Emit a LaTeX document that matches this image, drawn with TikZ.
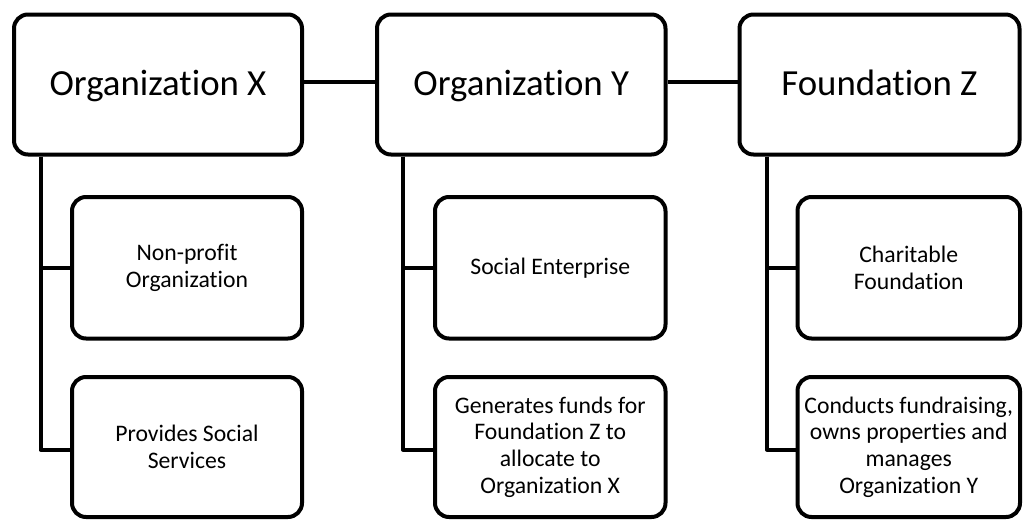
\documentclass[tikz,border=0pt]{standalone}
\usepackage{fontspec}
\setmainfont{Carlito}[Ligatures=NoCommon]
\begin{document}
\begin{tikzpicture}[x=1pt,y=-1pt,
  box/.style={draw=black, line width=4pt, rounded corners=14pt, fill=white, align=center, inner sep=0pt},
  topbox/.style={box, minimum height=140pt, text height=26pt, text depth=5pt, font=\fontsize{36.8}{44}\selectfont},
  subbox/.style={box, font=\fontsize{23.7}{26.7}\selectfont},
  link/.style={draw=black, line width=4pt, line join=round}]
\useasboundingbox (0,0) rectangle (1023,520);
% top level
\node[topbox, minimum width=288pt] (X) at (158,84.5) {Organization X};
\node[topbox, minimum width=288.5pt] (Y) at (521.25,84.5) {Organization Y};
\node[topbox, minimum width=280pt] (Z) at (879.5,84.5) {Foundation Z};
% children
\node[subbox, minimum width=230pt, minimum height=141.5pt] (X1) at (187,267.75) {Non-profit\\Organization};
\node[subbox, minimum width=230pt, minimum height=140pt] (X2) at (187,447) {Provides Social\\Services};
\node[subbox, minimum width=230.5pt, minimum height=141.5pt] (Y1) at (550.25,267.75) {Social Enterprise};
\node[subbox, minimum width=230.5pt, minimum height=140pt] (Y2) at (550.25,447) {Generates funds for\\Foundation Z to\\allocate to\\Organization X};
\node[subbox, minimum width=222.5pt, minimum height=141.5pt] (Z1) at (908.75,267.75) {Charitable\\Foundation};
\node[subbox, minimum width=222.5pt, minimum height=140pt] (Z2) at (908.75,447) {Conducts fundraising,\\owns properties and\\manages\\Organization Y};
% connectors
\draw[link] ([yshift=3pt]X.east) -- ([yshift=3pt]Y.west);
\draw[link] ([yshift=3pt]Y.east) -- ([yshift=3pt]Z.west);
\draw[link] ([xshift=28.5pt]X.south west) |- (X1.west);
\draw[link] ([xshift=28.5pt]X.south west) |- ([yshift=-2.5pt]X2.west);
\draw[link] ([xshift=28pt]Y.south west) |- (Y1.west);
\draw[link] ([xshift=28pt]Y.south west) |- ([yshift=-2.5pt]Y2.west);
\draw[link] ([xshift=29.5pt]Z.south west) |- (Z1.west);
\draw[link] ([xshift=29.5pt]Z.south west) |- ([yshift=-2.5pt]Z2.west);
\end{tikzpicture}
\end{document}
